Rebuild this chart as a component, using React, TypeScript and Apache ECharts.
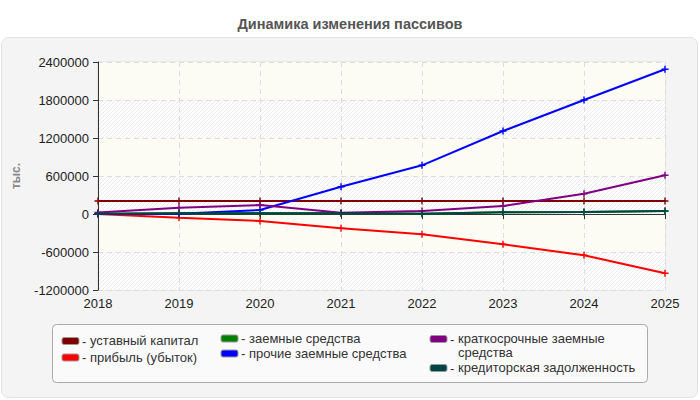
import React, { useEffect, useRef } from "react";
import * as echarts from "echarts";

const years = ["2018", "2019", "2020", "2021", "2022", "2023", "2024", "2025"];
const yTicks = { min: -1200000, max: 2400000, interval: 600000 };

const seriesNames = [
  "уставный капитал",
  "прибыль (убыток)",
  "заемные средства",
  "прочие заемные средства",
  "краткосрочные заемные средства",
  "кредиторская задолженность",
];
const seriesColors = ["#800000", "#ff0000", "#008000", "#0000ff", "#800080", "#004545"];

const ustavCapital = [205000, 205000, 205000, 205000, 205000, 205000, 205000, 205000];
const profitLoss = [0, -58000, -110000, -226000, -320000, -478000, -652000, -936000];
const borrowed = [5000, 10000, 10000, 10000, 5000, 27000, 32000, 47000];
const otherBorrowed = [0, 5000, 63000, 431000, 769000, 1310000, 1800000, 2285000];
const shortTermBorrowed = [25000, 100000, 142000, 20000, 47000, 126000, 320000, 611000];
const payables = [5000, 10000, 10000, 10000, 5000, 27000, 32000, 47000];

const seriesData = [ustavCapital, profitLoss, borrowed, otherBorrowed, shortTermBorrowed, payables];

const FONT = "'Liberation Sans', Arial, sans-serif";

function makeHatch(): HTMLCanvasElement {
  const c = document.createElement("canvas");
  c.width = 4;
  c.height = 4;
  const ctx = c.getContext("2d")!;
  ctx.fillStyle = "#fdfdfd";
  ctx.fillRect(0, 0, 4, 4);
  ctx.fillStyle = "#ebebeb";
  for (let i = 0; i < 4; i++) ctx.fillRect(3 - i, i, 1, 1);
  return c;
}

function wrapLabel(text: string, maxPx: number, font: string): string {
  const c = document.createElement("canvas").getContext("2d")!;
  c.font = font;
  const words = text.split(" ");
  const lines: string[] = [];
  let cur = "";
  for (const w of words) {
    const t = cur ? cur + " " + w : w;
    if (c.measureText(t).width > maxPx && cur) {
      lines.push(cur);
      cur = w;
    } else cur = t;
  }
  if (cur) lines.push(cur);
  return lines.join("\n");
}

export default function App() {
  const ref = useRef<HTMLDivElement>(null);
  useEffect(() => {
    if (!ref.current) return;
    const chart = echarts.init(ref.current, null, { renderer: "svg" });
    const hatch = makeHatch();

    const colX = [62, 221, 430];
    const colRows = [[341, 357.5], [338.5, 353.5], [339, 368]];
    const legendFont = `13px ${FONT}`;
    const legendEls: any[] = [];
    seriesNames.forEach((name, i) => {
      const col = Math.floor(i / 2);
      const row = i % 2;
      const x = colX[col];
      const y = colRows[col][row];
      legendEls.push({
        type: "rect",
        shape: { x, y: y - 3.5, width: 17, height: 7, r: 2 },
        style: { fill: seriesColors[i], stroke: "#999", lineWidth: 1 },
        z: 20,
      });
      legendEls.push({
        type: "text",
        x: x + 20,
        y,
        style: { text: "-", fill: "#333", font: legendFont, verticalAlign: "middle" },
        z: 20,
      });
      const label = wrapLabel(name, 190, legendFont);
      legendEls.push({
        type: "text",
        x: x + 28,
        y: y - 7.5,
        style: {
          text: label,
          fill: "#333",
          font: legendFont,
          verticalAlign: "top",
          lineHeight: 14,
        },
        z: 20,
      });
    });

    chart.setOption({
      animation: false,
      backgroundColor: "#ffffff",
      title: {
        text: "Динамика изменения пассивов",
        left: "center",
        top: 11,
        textStyle: { fontSize: 14.5, fontWeight: "bold", color: "#555", fontFamily: FONT },
      },
      graphic: [
        {
          type: "rect",
          shape: { x: 1.5, y: 37.5, width: 696, height: 360, r: 7 },
          style: { fill: "#f4f4f4", stroke: "#e2e2e2", lineWidth: 1 },
          z: -100,
          silent: true,
        },
        {
          type: "rect",
          shape: { x: 52.5, y: 324.5, width: 595, height: 58, r: 4 },
          style: { fill: "#fafafa", stroke: "#aaaaaa", lineWidth: 1 },
          z: 10,
        },
        ...legendEls,
      ],
      grid: {
        left: 98,
        right: 35,
        top: 62,
        bottom: 110,
        show: true,
        borderColor: "#dddddd",
        borderWidth: 1,
        backgroundColor: "transparent",
      },
      xAxis: {
        type: "category",
        data: years,
        boundaryGap: false,
        axisLine: { lineStyle: { color: "#333", width: 1 } },
        axisTick: { show: true, length: 5, lineStyle: { color: "#333" } },
        axisLabel: { color: "#222", fontSize: 13, fontFamily: FONT, margin: 7 },
        splitLine: { show: true, lineStyle: { color: "#dcdcdc", type: [5, 4] } },
      },
      yAxis: {
        type: "value",
        min: yTicks.min,
        max: yTicks.max,
        interval: yTicks.interval,
        name: "тыс.",
        nameLocation: "middle",
        nameGap: 76,
        nameTextStyle: { color: "#888", fontSize: 12, fontWeight: "bold", fontFamily: FONT },
        axisLine: { show: true, lineStyle: { color: "#333", width: 1 } },
        axisTick: { show: true, length: 5, lineStyle: { color: "#333" } },
        axisLabel: {
          color: "#222",
          fontSize: 13,
          fontFamily: FONT,
          margin: 9,
          formatter: (v: number) => String(v),
        },
        splitLine: { show: true, lineStyle: { color: "#dcdcdc", type: [5, 4] } },
        splitArea: {
          show: true,
          areaStyle: { color: [{ image: hatch, repeat: "repeat" } as any, "#fcfcf4"] },
        },
      },
      series: seriesNames.map((name, i) => ({
        name,
        type: "line",
        data: seriesData[i],
        symbol: "path://M0,2 L5,2 L5,3 L0,3 Z M2,0 L3,0 L3,5 L2,5 Z",
        symbolSize: 7,
        showSymbol: true,
        itemStyle: { color: seriesColors[i] },
        lineStyle: { color: seriesColors[i], width: 2 },
        z: 3 + i * 0.01,
      })),
    });
    return () => chart.dispose();
  }, []);
  return <div ref={ref} style={{ width: 700, height: 400, position: "absolute", left: 0, top: 0 }} />;
}
